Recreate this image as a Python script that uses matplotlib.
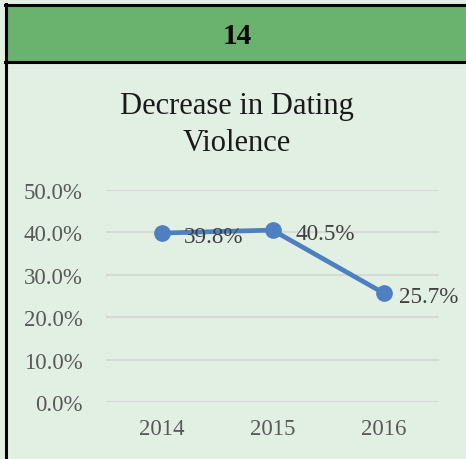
import matplotlib
matplotlib.use("agg")
from matplotlib import pyplot as plt
from matplotlib.patches import Rectangle
from matplotlib.ticker import PercentFormatter

years = ["2014", "2015", "2016"]
rates = [0.398, 0.405, 0.257]
labels = ["39.8%", "40.5%", "25.7%"]
y_ticks = [0.0, 0.1, 0.2, 0.3, 0.4, 0.5]
title_lines = ["Decrease in Dating", "Violence"]

W, H = 466, 460
BODY = "#E2EFE3"
HEADER = "#69B36F"
BLUE = "#4E7FC0"
GREY = "#595959"

plt.rcParams["font.family"] = ["Liberation Serif", "DejaVu Serif"]

fig = plt.figure(figsize=(W / 100, H / 100), dpi=100)
fig.set_facecolor(BODY)

# Header band and borders, in pixel coordinates
bg = fig.add_axes((0, 0, 1, 1))
bg.set_xlim(0, W)
bg.set_ylim(H, 0)
bg.set_axis_off()
bg.add_patch(Rectangle((5, 6), W, 57, facecolor=HEADER, edgecolor="none"))
bg.plot([5, W], [6, 6], color="black", lw=2.2)
bg.plot([6, 6], [5, H], color="black", lw=2.2)
bg.plot([5, W], [63, 63], color="black", lw=2.2)
bg.text(237, 44, "14", fontsize=21, fontweight="bold", ha="center", va="baseline")
for line, base in zip(title_lines, [114, 151]):
    bg.text(237, base, line, fontsize=22, ha="center", va="baseline",
            color="#1a1a1a")

# Chart
ax = fig.add_axes((106 / W, (H - 403.3) / H, 333 / W, 212.6 / H))
ax.set_facecolor("none")
x = [i + 0.5 for i in range(len(years))]
ax.plot(x, rates, color=BLUE, lw=3.4, marker="o", markersize=11, zorder=3)
# Excel pushed the first two labels a bit further right
for xi, yi, lab, dx in zip(x, rates, labels, [16, 16.5, 11]):
    ax.annotate(lab, (xi, yi), xytext=(dx, -6.7), textcoords="offset points",
                ha="left", va="baseline", fontsize=16.7, color="#404040",
                zorder=4)

ax.set_xlim(0, 3)
ax.set_ylim(0, 0.5)
ax.set_yticks(y_ticks)
ax.yaxis.set_major_formatter(PercentFormatter(1.0, decimals=1))
ax.set_xticks(x)
ax.set_xticklabels(years)
ax.grid(axis="y", color="#D8D8D8", lw=1.5)
ax.set_axisbelow(True)
for s in ax.spines.values():
    s.set_visible(False)
ax.tick_params(length=0, labelsize=16.5, labelcolor=GREY)
ax.tick_params(axis="y", pad=17)
ax.tick_params(axis="x", pad=11)

fig.savefig("out.png", dpi=100, facecolor=BODY)
